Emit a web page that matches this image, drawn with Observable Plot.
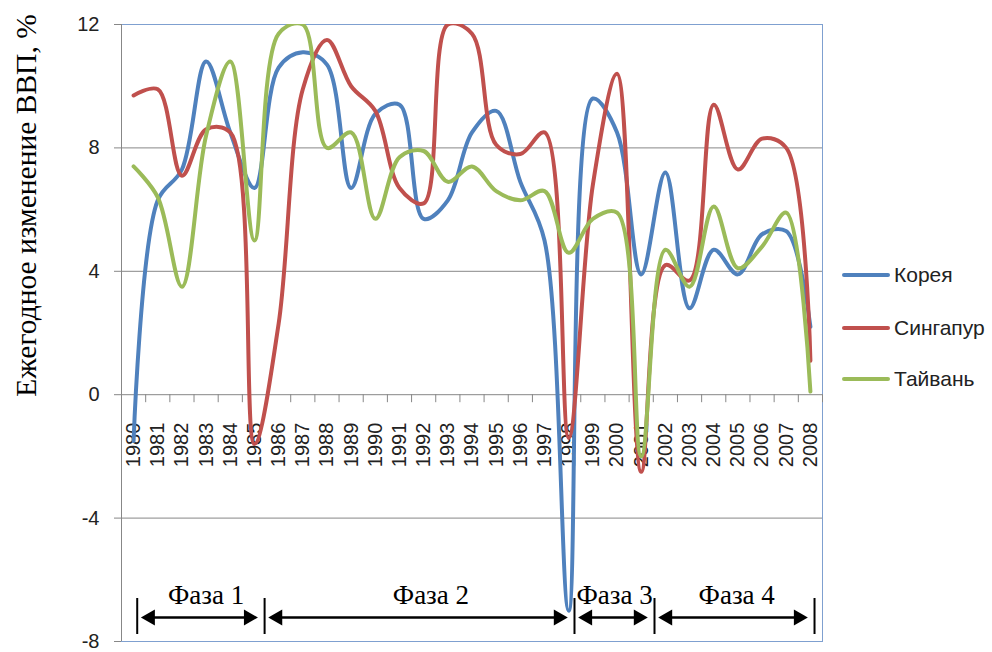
<!DOCTYPE html>
<html><head><meta charset="utf-8">
<script src="https://cdn.jsdelivr.net/npm/d3@7"></script>
<script src="https://cdn.jsdelivr.net/npm/@observablehq/plot@0.6"></script>
<style>
body{margin:0;background:#fff;}
#wrap{position:relative;width:992px;height:652px;overflow:hidden;}
#legend{position:absolute;left:842px;top:0;font-family:"Liberation Sans",Arial,sans-serif;font-size:21px;color:#222;}
.item{position:absolute;left:0;height:24px;display:flex;align-items:center;white-space:nowrap;}
.sw{width:48px;height:4px;border-radius:2px;margin-right:4px;}
</style></head><body><div id="wrap"></div>
<script>
// ---- data ----
const years = [1980,1981,1982,1983,1984,1985,1986,1987,1988,1989,1990,1991,1992,1993,1994,1995,1996,1997,1998,1999,2000,2001,2002,2003,2004,2005,2006,2007,2008];
const korea     = [-1.5,6.3,7.3,10.8,8.5,6.7,10.6,11.1,10.7,6.7,9.1,9.4,5.7,6.3,8.5,9.2,6.9,5.0,-7.0,9.6,8.5,3.9,7.2,2.8,4.7,3.9,5.2,5.3,2.2];
const singapore = [9.7,9.9,7.1,8.6,8.5,-1.6,2.3,9.9,11.5,10.0,9.2,6.7,6.2,12.0,11.7,8.1,7.8,8.5,-1.4,6.8,10.4,-2.5,4.2,3.7,9.4,7.3,8.3,8.0,1.1];
const taiwan    = [7.4,6.4,3.5,8.4,10.8,5.0,11.7,12.0,8.0,8.5,5.7,7.7,7.9,6.9,7.4,6.6,6.3,6.6,4.6,5.7,5.9,-2.0,4.7,3.5,6.1,4.1,4.8,5.9,0.1];
const seriesNames = ["Корея","Сингапур","Тайвань"];
const seriesColors = ["#4F81BD","#C0504D","#9BBB59"];
const yTicks = [-8,-4,0,4,8,12];
const gridValues = [-4,4,8];
const yTitle = "Ежегодное изменение ВВП, %";
const phaseNames = ["Фаза 1","Фаза 2","Фаза 3","Фаза 4"];
const phaseBounds = [1980.15,1985.42,1998.24,2001.55,2008.17];
const phaseLabelYear = [1983.0,1992.3,1999.9,2004.95];

// ---- tables ----
const seriesValues = [korea, singapore, taiwan];
const rows = seriesNames.flatMap((name, s) => seriesValues[s].map((v, i) => ({name, year: years[i], value: v})));
const xDomain = [years[0] - 0.5, years[years.length - 1] + 0.5];
const catBounds = [xDomain[0], ...years.map(y => y + 0.5)];
const phases = phaseNames.map((name, i) => ({name, start: phaseBounds[i], end: phaseBounds[i + 1], label: phaseLabelYear[i]}));
const yMin = yTicks[0];

const grey = "#878787";
const serif = "'Liberation Serif', 'Times New Roman', serif";
const plot = Plot.plot({
  width: 992, height: 652,
  marginLeft: 121, marginRight: 170, marginTop: 24, marginBottom: 11,
  x: {domain: xDomain, axis: null},
  y: {domain: [yTicks[0], yTicks[yTicks.length - 1]], axis: null},
  color: {domain: seriesNames, range: seriesColors},
  style: {fontFamily: "'Liberation Sans', Arial, sans-serif", background: "transparent", overflow: "visible"},
  marks: [
    Plot.frame({stroke: "#7FA0D0"}),
    Plot.ruleY(gridValues, {y: d => d, stroke: grey, strokeWidth: 1}),
    Plot.ruleY([0], {y: d => d, stroke: grey, strokeWidth: 1}),
    Plot.ruleX(catBounds, {x: d => d, y1: 0, y2: 0, insetBottom: -8, stroke: grey}),
    Plot.ruleX([xDomain[0]], {x: d => d, stroke: grey}),
    Plot.ruleY(yTicks, {y: d => d, x1: xDomain[0], x2: xDomain[0], insetLeft: -7, stroke: grey}),
    Plot.text(yTicks, {y: d => d, frameAnchor: "left", text: d => String(d), textAnchor: "end", dx: -22, fontSize: 20, fill: "#222"}),
    Plot.text(years, {x: d => d, y: 0, text: d => String(d), rotate: -90, textAnchor: "end", dy: 28, fontSize: 20, fill: "#222"}),
    Plot.text([yTitle], {frameAnchor: "top-left", dy: 181, dx: -106, rotate: -90, textAnchor: "middle", fontFamily: serif, fontSize: 29.5, fill: "#000"}),
    Plot.line(rows, {x: "year", y: "value", z: "name", stroke: "name", strokeWidth: 4, curve: "catmull-rom", clip: true, strokeLinecap: "round", strokeLinejoin: "round"}),
    Plot.ruleX(phaseBounds, {x: d => d, y1: yMin, y2: yMin, insetTop: -43, insetBottom: 7, stroke: "#000", strokeWidth: 2}),
    Plot.ruleY(phases, {x1: "start", x2: "end", y: () => yMin, dy: -24, insetLeft: 8, insetRight: 10, stroke: "#000", strokeWidth: 2.5}),
    Plot.dot(phases, {x: "start", y: () => yMin, dy: -24, dx: 13, symbol: "triangle", r: 6, rotate: -90, fill: "#000", stroke: "none"}),
    Plot.dot(phases, {x: "end", y: () => yMin, dy: -24, dx: -16, symbol: "triangle", r: 6, rotate: 90, fill: "#000", stroke: "none"}),
    Plot.text(phases, {x: "label", y: () => yMin, dy: -38, text: "name", lineAnchor: "bottom", fontFamily: serif, fontSize: 27, fill: "#000"})
  ]
});
const wrap = document.getElementById("wrap");
wrap.appendChild(plot);

// legend
const legend = document.createElement("div");
legend.id = "legend";
const legendY = [275, 328, 379];
seriesNames.forEach((name, i) => {
  const it = document.createElement("div");
  it.className = "item";
  it.style.top = (legendY[i] - 12) + "px";
  const sw = document.createElement("div");
  sw.className = "sw";
  sw.style.background = seriesColors[i];
  const tx = document.createElement("span");
  tx.textContent = name;
  it.appendChild(sw); it.appendChild(tx);
  legend.appendChild(it);
});
wrap.appendChild(legend);
</script></body></html>
